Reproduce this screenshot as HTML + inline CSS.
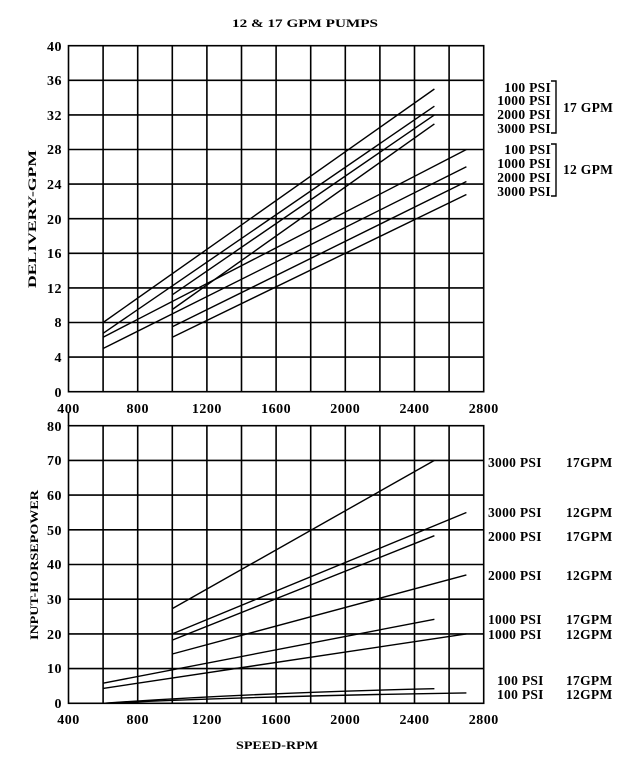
<!DOCTYPE html>
<html><head><meta charset="utf-8"><style>
body{margin:0;background:#fff}
svg{display:block}
text{font-family:"Liberation Serif",serif;font-weight:bold;fill:#000}
</style></head><body>
<svg width="640" height="766" viewBox="0 0 640 766" xmlns="http://www.w3.org/2000/svg">
<g stroke="#000" stroke-width="1.6" fill="none">
<rect x="68.5" y="45.7" width="415.2" height="346"/>
<path d="M103.1 45.7V391.7M137.7 45.7V391.7M172.3 45.7V391.7M206.9 45.7V391.7M241.5 45.7V391.7M276.1 45.7V391.7M310.7 45.7V391.7M345.3 45.7V391.7M379.9 45.7V391.7M414.5 45.7V391.7M449.1 45.7V391.7"/>
<path d="M68.5 80.3H483.7M68.5 114.9H483.7M68.5 149.5H483.7M68.5 184.1H483.7M68.5 218.7H483.7M68.5 253.3H483.7M68.5 287.9H483.7M68.5 322.5H483.7M68.5 357.1H483.7"/>
<rect x="68.5" y="425.7" width="415.2" height="277.6"/>
<path d="M103.1 425.7V703.3M137.7 425.7V703.3M172.3 425.7V703.3M206.9 425.7V703.3M241.5 425.7V703.3M276.1 425.7V703.3M310.7 425.7V703.3M345.3 425.7V703.3M379.9 425.7V703.3M414.5 425.7V703.3M449.1 425.7V703.3"/>
<path d="M68.5 460.4H483.7M68.5 495.1H483.7M68.5 529.8H483.7M68.5 564.5H483.7M68.5 599.2H483.7M68.5 633.9H483.7M68.5 668.6H483.7"/>
<path d="M68.5 412V425.7"/>
</g>
<g stroke="#000" stroke-width="1.4" fill="none">
<path d="M103.1 322.5L434.4 89"/>
<path d="M103.1 333.3L434.4 106.2"/>
<path d="M103.1 337.2L466.4 149.5"/>
<path d="M103.1 348.5L466.4 166.8"/>
<path d="M172.3 294.8L434.4 114.9"/>
<path d="M172.3 309.5L434.4 123.9"/>
<path d="M172.3 326.8L466.4 181.5"/>
<path d="M172.3 337.2L466.4 194.5"/>
<path d="M172.3 608.6L434.4 460.4"/>
<path d="M172.3 633.9L466.4 512.5"/>
<path d="M172.3 640.1L434.4 535.7"/>
<path d="M172.3 654L466.4 574.9"/>
<path d="M103.1 683.2L434.4 619.3"/>
<path d="M103.1 688.4L466.4 633.9"/>
<path d="M103.1 703.3Q250 693 434.4 688.7"/>
<path d="M103.1 703.3Q260 696 466.4 692.9"/>
<path d="M551 81H556V133H551M551 144H556V196H551"/>
</g>
<text x="232" y="27" font-size="12" textLength="146" lengthAdjust="spacingAndGlyphs">12 &amp; 17 GPM PUMPS</text>
<g font-size="14" text-anchor="end" letter-spacing="0.5">
<text x="62" y="51">40</text><text x="62" y="85">36</text><text x="62" y="120">32</text><text x="62" y="154">28</text><text x="62" y="189">24</text><text x="62" y="224">20</text><text x="62" y="258">16</text><text x="62" y="293">12</text><text x="62" y="327">8</text><text x="62" y="362">4</text><text x="62" y="397">0</text>
<text x="62" y="431">80</text><text x="62" y="465">70</text><text x="62" y="500">60</text><text x="62" y="535">50</text><text x="62" y="569">40</text><text x="62" y="604">30</text><text x="62" y="639">20</text><text x="62" y="673">10</text><text x="62" y="708">0</text>
</g>
<g font-size="14" text-anchor="middle" letter-spacing="0.5">
<text x="68.5" y="413">400</text><text x="137.7" y="413">800</text><text x="206.9" y="413">1200</text><text x="276.1" y="413">1600</text><text x="345.3" y="413">2000</text><text x="414.5" y="413">2400</text><text x="483.7" y="413">2800</text>
<text x="68.5" y="724">400</text><text x="137.7" y="724">800</text><text x="206.9" y="724">1200</text><text x="276.1" y="724">1600</text><text x="345.3" y="724">2000</text><text x="414.5" y="724">2400</text><text x="483.7" y="724">2800</text>
</g>
<text x="236" y="749" font-size="12" textLength="82" lengthAdjust="spacingAndGlyphs">SPEED-RPM</text>
<text transform="translate(36,288) rotate(-90)" font-size="12" textLength="138" lengthAdjust="spacingAndGlyphs">DELIVERY-GPM</text>
<text transform="translate(38,640) rotate(-90)" font-size="12" textLength="150" lengthAdjust="spacingAndGlyphs">INPUT-HORSEPOWER</text>
<g font-size="13.5" text-anchor="end" letter-spacing="0.3">
<text x="551" y="92">100 PSI</text><text x="551" y="105">1000 PSI</text><text x="551" y="119">2000 PSI</text><text x="551" y="133">3000 PSI</text>
<text x="551" y="154">100 PSI</text><text x="551" y="168">1000 PSI</text><text x="551" y="182">2000 PSI</text><text x="551" y="196">3000 PSI</text>
</g>
<g font-size="13.5" letter-spacing="0.3">
<text x="563" y="112">17 GPM</text><text x="563" y="174">12 GPM</text>
<text x="488" y="467">3000 PSI</text><text x="566" y="467">17GPM</text>
<text x="488" y="517">3000 PSI</text><text x="566" y="517">12GPM</text>
<text x="488" y="541">2000 PSI</text><text x="566" y="541">17GPM</text>
<text x="488" y="580">2000 PSI</text><text x="566" y="580">12GPM</text>
<text x="488" y="624">1000 PSI</text><text x="566" y="624">17GPM</text>
<text x="488" y="639">1000 PSI</text><text x="566" y="639">12GPM</text>
<text x="497" y="685">100 PSI</text><text x="566" y="685">17GPM</text>
<text x="497" y="699">100 PSI</text><text x="566" y="699">12GPM</text>
</g>
</svg>
</body></html>
